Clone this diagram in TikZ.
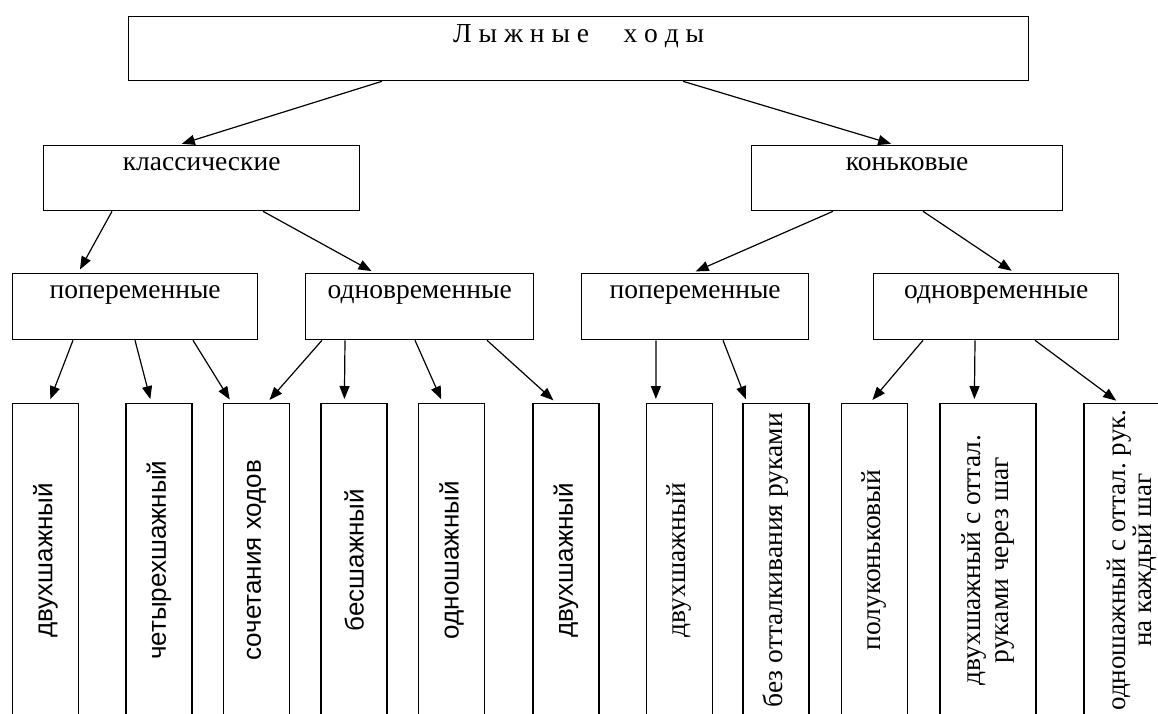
\documentclass[tikz,border=0pt]{standalone}
\usepackage{fontspec}
\setmainfont{Liberation Serif}
\newfontfamily\sansfnt{Liberation Sans}
\usetikzlibrary{arrows.meta}
\frenchspacing

\tikzset{
  box/.style={draw, line width=1.3pt, inner sep=0pt, anchor=north west,
    font=\fontsize{27.5}{30}\selectfont, text height=25pt, text depth=40pt},
  leaf/.style={draw, line width=1.3pt, rotate=90, anchor=east, inner sep=0pt,
    minimum width=313pt, minimum height=66pt, align=center,
    font=\fontsize{27.5}{28}\selectfont},
  sansleaf/.style={leaf, font=\sansfnt\fontsize{26}{28}\selectfont},
  arr/.style={line width=1.2pt, -{Triangle[length=13pt,width=10pt]}, shorten >=4pt},
}

\begin{document}
\begin{tikzpicture}[x=1pt,y=-1pt]
  \useasboundingbox (0,0) rectangle (1158,713);

  % levels
  \node[box, minimum width=900pt, text height=26pt, text depth=38pt] (top) at (128,16)
    {Л ы ж н ы е~~~~~х о д ы};
  \node[box, minimum width=316pt] (klass) at (43,145) {классические};
  \node[box, minimum width=311pt] (konk) at (751,145) {коньковые};
  \node[box, minimum width=245pt, text depth=41pt] (kpop) at (12,273) {попеременные};
  \node[box, minimum width=228pt, text depth=41pt] (kodn) at (305,273) {одновременные};
  \node[box, minimum width=227pt, text depth=41pt] (spop) at (581,273) {попеременные};
  \node[box, minimum width=245pt, text depth=41pt] (sodn) at (873,273) {одновременные};

  % leaves
  \node[sansleaf] (b1) at (45.5,403) {двухшажный};
  \node[sansleaf] (b2) at (159,403) {четырехшажный};
  \node[sansleaf] (b3) at (256.5,403) {сочетания ходов};
  \node[sansleaf] (b4) at (354,403) {бесшажный};
  \node[sansleaf] (b5) at (451.5,403) {одношажный};
  \node[sansleaf] (b6) at (566,403) {двухшажный};
  \node[leaf] (b7) at (679.5,403) {двухшажный};
  \node[leaf] (b8) at (776,403) {без отталкивания руками};
  \node[leaf] (b9) at (874.5,403) {полуконьковый};
  \node[leaf, minimum height=96pt] (b10) at (988,403) {двухшажный с оттал.\\руками через шаг};
  \node[leaf, minimum height=96pt, font=\fontsize{27}{26.5}\selectfont] (b11) at (1132,403)
    {одношажный с оттал. рук.\\на каждый шаг};

  % arrows
  \draw[arr] ([xshift=254pt]top.south west) -- ([xshift=135pt]klass.north west);
  \draw[arr] ([xshift=555pt]top.south west) -- ([xshift=144pt]konk.north west);
  \draw[arr] ([xshift=69pt]klass.south west) -- ([xshift=66pt]kpop.north west);
  \draw[arr] ([xshift=220pt]klass.south west) -- ([xshift=70pt]kodn.north west);
  \draw[arr] ([xshift=82pt]konk.south west) -- ([xshift=111pt]spop.north west);
  \draw[arr] ([xshift=172pt]konk.south west) -- ([xshift=142pt]sodn.north west);
  \draw[arr] ([xshift=61pt]kpop.south west) -- ([xshift=37pt]b1.north east);
  \draw[arr] ([xshift=123pt]kpop.south west) -- ([xshift=26pt]b2.north east);
  \draw[arr] ([xshift=181pt]kpop.south west) -- ([xshift=9pt]b3.north east);
  \draw[arr] ([xshift=17pt]kodn.south west) -- ([xshift=44pt]b3.north east);
  \draw[arr] ([xshift=40pt]kodn.south west) -- ([xshift=24pt]b4.north east);
  \draw[arr] ([xshift=110pt]kodn.south west) -- ([xshift=25pt]b5.north east);
  \draw[arr] ([xshift=182pt]kodn.south west) -- ([xshift=24pt]b6.north east);
  \draw[arr] ([xshift=75pt]spop.south west) -- ([xshift=10pt]b7.north east);
  \draw[arr] ([xshift=142pt]spop.south west) -- ([xshift=5pt]b8.north east);
  \draw[arr] ([xshift=50pt]sodn.south west) -- ([xshift=29pt]b9.north east);
  \draw[arr] ([xshift=102pt]sodn.south west) -- ([xshift=35pt]b10.north east);
  \draw[arr] ([xshift=162pt]sodn.south west) -- ([xshift=36pt]b11.north east);
\end{tikzpicture}
\end{document}
